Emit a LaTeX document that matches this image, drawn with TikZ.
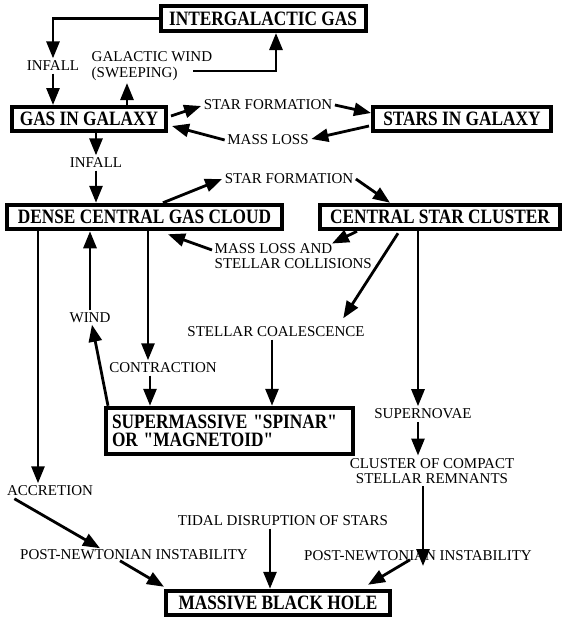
\documentclass[tikz,border=0pt]{standalone}
\usepackage{fontspec}
\usepackage{graphicx}
\setmainfont{Liberation Serif}
\usetikzlibrary{arrows.meta,calc}
\newcommand\talltext[1]{\scalebox{1}[1.18]{#1}}
\begin{document}
\begin{tikzpicture}[x=1pt,y=-1pt,
  box/.style={draw,line width=4pt,font=\fontsize{17.3}{18}\selectfont\bfseries,inner sep=0pt},
  lbl/.style={font=\fontsize{15}{15.5}\selectfont,inner sep=2.5pt,align=center},
  conn/.style={line width=2.8pt,-{Triangle[length=17pt,width=13pt]}}]
\useasboundingbox[fill=white] (0,0) rectangle (568,619);
% boxes
\node[box,minimum width=205pt,minimum height=25pt] (ig) at (263,18.5) {\talltext{INTERGALACTIC GAS}};
\node[box,minimum width=154pt,minimum height=24pt] (gig) at (89,119) {\talltext{GAS IN GALAXY}};
\node[box,minimum width=178pt,minimum height=24pt] (sig) at (462,119) {\talltext{STARS IN GALAXY}};
\node[box,minimum width=275pt,minimum height=24.5pt] (dense) at (144.5,217) {\talltext{DENSE CENTRAL GAS CLOUD}};
\node[box,minimum width=240pt,minimum height=24.5pt] (csc) at (440,217) {\talltext{CENTRAL STAR CLUSTER}};
\node[box,minimum height=46.5pt,text width=235pt,inner xsep=6pt,align=left,font=\fontsize{17.3}{18.5}\selectfont\bfseries] (spin) at (229.5,431) {\talltext{SUPERMASSIVE \textquotedbl SPINAR\textquotedbl}\\\talltext{OR \textquotedbl MAGNETOID\textquotedbl}};
\node[box,minimum width=224pt,minimum height=24.5pt] (mbh) at (278,603) {\talltext{MASSIVE BLACK HOLE}};
% labels
\node[lbl] (infallA) at (53,66) {INFALL};
\node[lbl,anchor=west,align=left] (gw) at (89,66) {GALACTIC WIND\\(SWEEPING)};
\node[lbl] (sfA) at (268,105) {STAR FORMATION};
\node[lbl] (mlA) at (268,140) {MASS LOSS};
\node[lbl] (infallB) at (96,163) {INFALL};
\node[lbl] (sfB) at (289,179) {STAR FORMATION};
\node[lbl,anchor=west,align=left] (mlsc) at (212,256) {MASS LOSS AND\\STELLAR COLLISIONS};
\node[lbl] (wind) at (90,318) {WIND};
\node[lbl] (sc) at (276,332) {STELLAR COALESCENCE};
\node[lbl] (contr) at (163,368) {CONTRACTION};
\node[lbl] (sn) at (423,414) {SUPERNOVAE};
\node[lbl] (cc) at (432,471) {CLUSTER OF COMPACT\\STELLAR REMNANTS};
\node[lbl] (acc) at (50,491) {ACCRETION};
\node[lbl] (tidal) at (283,521) {TIDAL DISRUPTION OF STARS};
\node[lbl] (pniL) at (134,555) {POST-NEWTONIAN INSTABILITY};
\node[lbl] (pniR) at (418,556) {POST-NEWTONIAN INSTABILITY};
% column coordinates
\coordinate (xgw) at (127,0);
\coordinate (xgwup) at (276,0);
\coordinate (gwR) at (193,71);
\coordinate (xsfB) at (163,0);
\coordinate (xsfBr) at (390,0);
\coordinate (xacc) at (38,0);
\coordinate (xwindA) at (108,0);
\coordinate (xwindB) at (90,0);
\coordinate (xcon) at (148,0);
\coordinate (xconB) at (150,0);
\coordinate (xsc) at (272,0);
\coordinate (xsn) at (418,0);
\coordinate (xcc) at (423,0);
\coordinate (xtid) at (270,0);
% connectors
\draw[conn] (ig.west) -| (infallA.north);
\draw[conn] (infallA.south) -- (infallA.south |- gig.north);
\draw[conn] (xgw |- gig.north) -- (xgw |- gw.south);
\draw[conn] (gwR) -| (xgwup |- ig.south);
\draw[conn] ($(gig.east)+(3,-3)$) -- ($(sfA.west)+(0,1)$);
\draw[conn] (sfA.east) -- ($(sig.west)+(0,-6)$);
\draw[conn] ($(sig.west)+(-2,7)$) -- ($(mlA.east)+(0,-1)$);
\draw[conn] (mlA.west) -- ($(gig.east)+(4,7)$);
\draw[conn] (infallB.north |- gig.south) -- (infallB.north);
\draw[conn] (infallB.south) -- (infallB.south |- dense.north);
\draw[conn] (xsfB |- dense.north) -- (sfB.west);
\draw[conn] (sfB.east) -- (xsfBr |- csc.north);
\draw[conn] ($(csc.south west)+(39,0)$) -- ($(mlsc.north west)+(120,3)$);
\draw[conn] ($(mlsc.west)+(0,-6)$) -- ($(dense.south east)+(-116,3)$);
\draw[conn] ($(csc.south west)+(80,2)$) -- ($(sc.north east)+(-24,-6)$);
\draw[conn] (xsc |- sc.south) -- (xsc |- spin.north);
\draw[conn] (xsn |- csc.south) -- (xsn |- sn.north);
\draw[conn] (xsn |- sn.south) -- (xsn |- cc.north);
\draw[conn] (xcc |- cc.south) -- ([yshift=-10pt]xcc |- pniR.center);
\draw[conn] ($(pniR.south)+(-8,-4)$) -- ($(mbh.north east)+(-24,-4)$);
\draw[conn] (xacc |- dense.south) -- (xacc |- acc.north);
\draw[conn] ($(acc.south west)+(10,0)$) -- ($(pniL.north)+(-34,1)$);
\draw[conn] ($(pniL.south)+(-14,-2)$) -- ($(mbh.north west)+(0,-2)$);
\draw[conn] (xtid |- tidal.south) -- (xtid |- mbh.north);
\draw[conn] (xwindA |- spin.north) -- ($(wind.south)+(2,-1)$);
\draw[conn] (xwindB |- wind.north) -- (xwindB |- dense.south);
\draw[conn] (xcon |- dense.south) -- (xcon |- contr.north);
\draw[conn] (xconB |- contr.south) -- (xconB |- spin.north);
\end{tikzpicture}
\end{document}
